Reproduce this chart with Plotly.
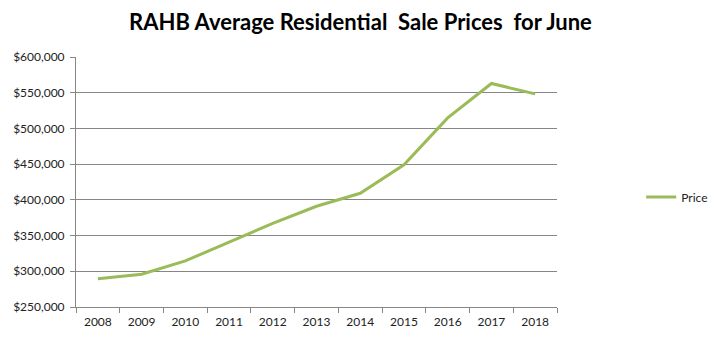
import plotly.graph_objects as go

years = ["2008", "2009", "2010", "2011", "2012", "2013", "2014", "2015", "2016", "2017", "2018"]
prices = [289400, 295800, 314500, 341200, 367200, 391000, 409200, 449000, 514800, 562900, 548400]
series_name = "Price"
title_text = "RAHB Average Residential  Sale Prices  for June"

fig = go.Figure()
fig.add_trace(go.Scatter(
    x=years, y=prices, mode="lines", name=series_name,
    line=dict(color="#9BBB59", width=3),
))

fig.update_layout(
    width=721, height=350,
    margin=dict(l=76, r=164, t=57, b=43, autoexpand=False),
    paper_bgcolor="white", plot_bgcolor="white",
    title=dict(text="<b>" + title_text + "</b>", x=0.5, xanchor="center",
               y=1 - 22 / 350, yanchor="middle",
               font=dict(family="Lato", size=22, color="#000000")),
    font=dict(family="Lato", size=12, color="#222222"),
    showlegend=True,
    legend=dict(x=1.175, xanchor="left", y=0.44, yanchor="middle",
                itemwidth=30, font=dict(family="Lato", size=12, color="#222222"),
                bgcolor="rgba(0,0,0,0)"),
)
fig.update_xaxes(
    type="category", tickson="boundaries", ticks="outside", ticklen=5,
    tickcolor="#868686", showline=True, linecolor="#868686", linewidth=1,
    showgrid=False, range=[-0.5, 10.5], tickfont=dict(size=12),
    ticklabelstandoff=4,
)
fig.update_yaxes(
    range=[250000, 600000], dtick=50000, tickprefix="$", tickformat=",",
    ticks="outside", ticklen=5, tickcolor="#868686",
    showline=True, linecolor="#868686", linewidth=1,
    showgrid=True, gridcolor="#868686", gridwidth=1, zeroline=False,
    tickfont=dict(size=12), ticklabelstandoff=3,
)

fig.write_html("out.html")
